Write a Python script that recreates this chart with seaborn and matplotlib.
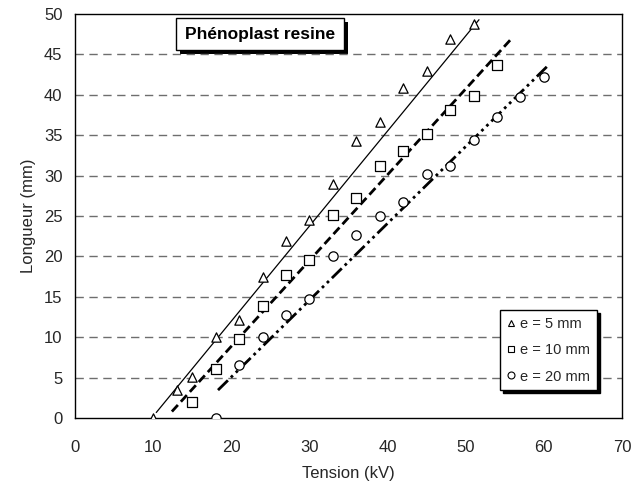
import numpy as np
import pandas as pd
import matplotlib
matplotlib.use("Agg")
import matplotlib.pyplot as plt
from matplotlib.patches import Rectangle
from matplotlib.lines import Line2D
import seaborn as sns

# ---- data ----
x_5 = [10, 13, 15, 18, 21, 24, 27, 30, 33, 36, 39, 42, 45, 48, 51]
y_5 = [0, 3.5, 5.1, 10.0, 12.1, 17.4, 21.9, 24.5, 29.0, 34.3, 36.6, 40.9, 42.9, 46.9, 48.8]
x_10 = [15, 18, 21, 24, 27, 30, 33, 36, 39, 42, 45, 48, 51, 54]
y_10 = [2.0, 6.1, 9.8, 13.9, 17.7, 19.6, 25.1, 27.2, 31.2, 33.1, 35.2, 38.1, 39.9, 43.7]
x_20 = [18, 21, 24, 27, 30, 33, 36, 39, 42, 45, 48, 51, 54, 57, 60]
y_20 = [0, 6.6, 10.0, 12.7, 14.7, 20.1, 22.6, 25.0, 26.7, 30.2, 31.2, 34.4, 37.2, 39.7, 42.2]
labels = ["e = 5 mm", "e = 10 mm", "e = 20 mm"]
title_text = "Phénoplast resine"
x_ticks = [0, 10, 20, 30, 40, 50, 60, 70]
y_ticks = [0, 5, 10, 15, 20, 25, 30, 35, 40, 45, 50]
# trendlines (slope, intercept) and their x spans
fit_slope = [1.177, 1.062, 0.951]
fit_intercept = [-11.56, -12.37, -13.95]
fit_span = [(10.4, 51.7), (12.4, 55.8), (18.3, 60.7)]

sns.set_theme(style="white")
plt.rcParams['font.family'] = ['Liberation Sans', 'DejaVu Sans']

fig = plt.figure(figsize=(6.35, 4.95), dpi=100)
ax = fig.add_axes([75/635, 1-418/495, (622-75)/635, (418-14)/495])

series = [(x_5, y_5, '^'), (x_10, y_10, 's'), (x_20, y_20, 'o')]
line_styles = ['-', (0, (3.2, 1.6)), (0, (5, 1.5, 1, 1.5, 1, 1.5))]
line_widths = [0.9, 2.0, 2.0]

for i, (xs, ys, m) in enumerate(series):
    df = pd.DataFrame({"x": xs, "y": ys})
    sns.scatterplot(data=df, x="x", y="y", marker=m, s=45, facecolor="white",
                    edgecolor="black", linewidth=0.9, ax=ax, zorder=4)
    lx = np.array(fit_span[i])
    fdf = pd.DataFrame({"x": lx, "y": fit_slope[i] * lx + fit_intercept[i]})
    sns.lineplot(data=fdf, x="x", y="y", color="black", linewidth=line_widths[i],
                 linestyle=line_styles[i], ax=ax, zorder=3)

ax.set_xlim(0, 70)
ax.set_ylim(0, 50)
ax.set_xticks(x_ticks)
ax.set_yticks(y_ticks)
ax.tick_params(axis='both', direction='out', length=5, width=1, color='black',
               labelsize=12, pad=4)
ax.tick_params(axis='x', pad=11)
for s in ax.spines.values():
    s.set_color('black')
    s.set_linewidth(1.0)
ax.set_xlabel("Tension (kV)", fontsize=12, labelpad=8)
ax.set_ylabel("Longueur (mm)", fontsize=12, labelpad=6)

for yv in y_ticks[1:-1]:
    ax.axhline(yv, color='#6e6e6e', linewidth=1.0, linestyle=(0, (6, 4)), zorder=1)

# title box with shadow
ttl = ax.text(23.7, 47.5, title_text, fontsize=12.5, fontweight='bold', ha='center', va='center',
              color='black',
              bbox=dict(boxstyle='square,pad=0.5', facecolor='white', edgecolor='black', linewidth=1),
              zorder=6)
fig.canvas.draw()
bb = ttl.get_bbox_patch().get_window_extent()
fig.patches.append(Rectangle((bb.x0 + 4, bb.y0 - 4), bb.width, bb.height, transform=None,
                             facecolor='black', edgecolor='none', zorder=2.5))
ax.set_zorder(3)
ax.patch.set_alpha(0)

handles = [Line2D([], [], linestyle='none', marker=m, markersize=5, markerfacecolor='white',
                  markeredgecolor='black', markeredgewidth=0.8) for m in ['^', 's', 'o']]
leg = ax.legend(handles, labels, loc='lower right', bbox_to_anchor=(0.954, 0.069),
                fontsize=10.5, frameon=True, fancybox=False, shadow={'color': 'black', 'alpha': 1},
                handlelength=0.6, handletextpad=0.35, borderpad=0.45, labelspacing=0.85,
                borderaxespad=0)
leg.get_frame().set_edgecolor('black')
leg.get_frame().set_linewidth(1.0)
leg.set_zorder(7)

fig.savefig("out.png", dpi=100)
